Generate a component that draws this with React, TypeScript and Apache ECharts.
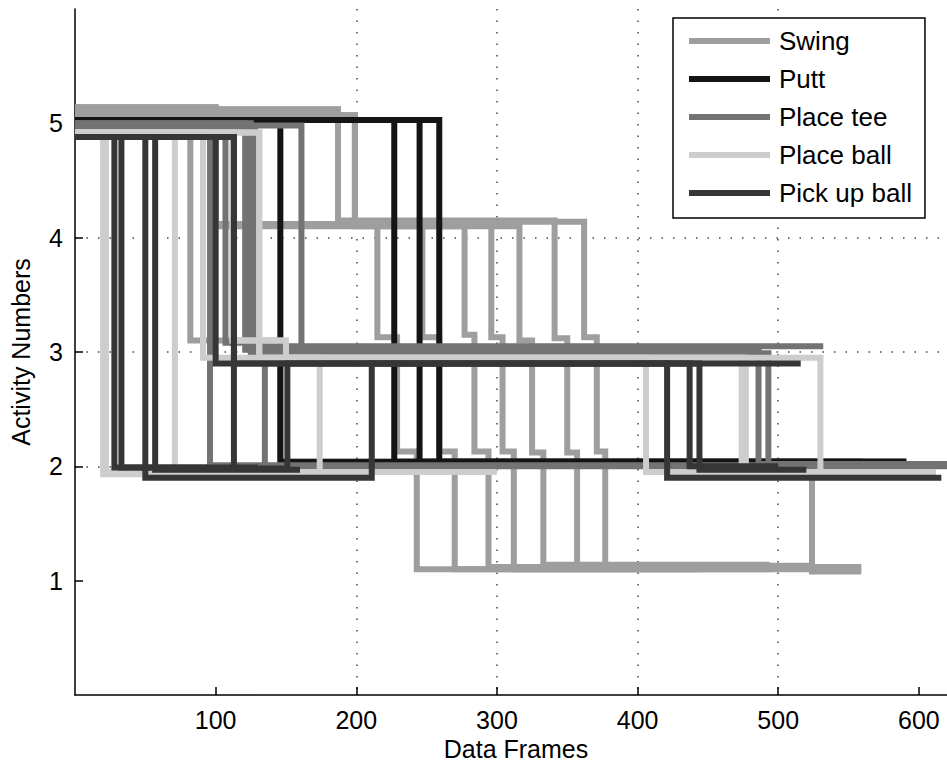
import React, { useEffect, useRef } from "react";
import * as echarts from "echarts";

// ---- Data (frames, activity number) ----
const categories = ["Swing", "Putt", "Place tee", "Place ball", "Pick up ball"];
const xTicks = [100, 200, 300, 400, 500, 600];
const yTicks = [1, 2, 3, 4, 5];

const swingTraces: number[][][] = [
  [[0, 5.14], [100, 5.14], [100, 4.12], [215, 4.12], [215, 3.13], [229, 3.13], [229, 2.13], [243, 2.13], [243, 1.1], [446, 1.1]],
  [[0, 5.12], [187, 5.12], [187, 4.12], [247, 4.12], [247, 3.13], [259, 3.13], [259, 2.13], [270, 2.13], [270, 1.1], [494, 1.1]],
  [[0, 5.07], [199, 5.07], [199, 4.1], [277, 4.1], [277, 3.15], [284, 3.15], [284, 2.13], [294, 2.13], [294, 1.12], [446, 1.12]],
  [[0, 5.12], [187, 5.12], [187, 4.13], [296, 4.13], [296, 3.13], [304, 3.13], [304, 2.13], [312, 2.13], [312, 1.1], [559, 1.1]],
  [[0, 5.14], [100, 5.14], [100, 4.1], [316, 4.1], [316, 3.1], [325, 3.1], [325, 2.12], [333, 2.12], [333, 1.14], [494, 1.14]],
  [[0, 5.12], [187, 5.12], [187, 4.15], [341, 4.15], [341, 3.12], [350, 3.12], [350, 2.12], [357, 2.12], [357, 1.13], [523, 1.13]],
  [[0, 5.07], [199, 5.07], [199, 4.14], [362, 4.14], [362, 3.13], [371, 3.13], [371, 2.13], [377, 2.13], [377, 1.12], [559, 1.12]],
  [[0, 5.12], [82, 5.12], [82, 3.1], [146, 3.1], [146, 2.04], [524, 2.04], [524, 1.08], [559, 1.08]],
];

const puttTraces: number[][][] = [
  [[0, 5.03], [146, 5.03], [146, 2.04], [591, 2.04]],
  [[0, 5.03], [227, 5.03], [227, 2.04], [560, 2.04]],
  [[0, 5.03], [245, 5.03], [245, 2.04], [591, 2.04]],
  [[0, 5.03], [259, 5.03], [259, 2.04], [591, 2.04]],
];

const placeTeeTraces: number[][][] = [
  [[0, 4.98], [96, 4.98], [96, 2.01], [640, 2.01]],
  [[0, 4.98], [107, 4.98], [107, 3.08], [135, 3.08], [135, 2.0], [560, 2.0]],
  [[0, 5.0], [121, 5.0], [121, 3.02], [486, 3.02], [486, 2.02], [640, 2.02]],
  [[0, 5.0], [125, 5.0], [125, 2.99], [493, 2.99], [493, 2.0], [640, 2.0]],
  [[0, 4.97], [128, 4.97], [128, 3.05], [532, 3.05]],
  [[0, 4.98], [161, 4.98], [161, 3.0], [430, 3.0]],
];

const placeBallTraces: number[][][] = [
  [[0, 4.92], [20, 4.92], [20, 1.93], [170, 1.93]],
  [[0, 4.92], [22, 4.92], [22, 1.95], [110, 1.95]],
  [[0, 4.92], [71, 4.92], [71, 1.95], [240, 1.95]],
  [[0, 4.92], [91, 4.92], [91, 2.95], [174, 2.95], [174, 1.95], [300, 1.95]],
  [[0, 4.92], [112, 4.92], [112, 3.1], [150, 3.1], [150, 2.95], [406, 2.95], [406, 1.95], [612, 1.95]],
  [[0, 4.92], [112, 4.92], [112, 3.1], [150, 3.1], [150, 2.95], [474, 2.95], [474, 1.95], [612, 1.95]],
  [[0, 4.92], [131, 4.92], [131, 2.95], [477, 2.95], [477, 1.95], [600, 1.95]],
  [[0, 4.92], [131, 4.92], [131, 2.95], [530, 2.95], [530, 1.95], [612, 1.95]],
];

const pickUpTraces: number[][][] = [
  [[0, 4.88], [28, 4.88], [28, 1.99], [95, 1.99]],
  [[0, 4.88], [33, 4.88], [33, 1.99], [130, 1.99]],
  [[0, 4.88], [50, 4.88], [50, 1.9], [211, 1.9], [211, 2.9], [421, 2.9], [421, 1.9], [616, 1.9]],
  [[0, 4.88], [57, 4.88], [57, 1.97], [160, 1.97]],
  [[0, 4.88], [113, 4.88], [113, 1.98], [151, 1.98], [151, 2.9], [437, 2.9], [437, 2.0], [500, 2.0]],
  [[0, 4.88], [113, 4.88], [113, 2.9], [444, 2.9], [444, 1.97], [520, 1.97]],
  [[0, 4.88], [100, 4.88], [100, 2.9], [516, 2.9]],
];

const seriesColors = ["#9e9e9e", "#141414", "#737373", "#cdcdcd", "#363636"];
const allTraces = [swingTraces, puttTraces, placeTeeTraces, placeBallTraces, pickUpTraces];

const FONT = "'Liberation Sans', Arial, Helvetica, sans-serif";

export default function App() {
  const ref = useRef<HTMLDivElement>(null);
  useEffect(() => {
    if (!ref.current) return;
    const chart = echarts.init(ref.current, undefined, { renderer: "svg" });
    const series: any[] = [];
    allTraces.forEach((traces, ci) => {
      traces.forEach((tr) => {
        series.push({
          type: "line",
          name: categories[ci],
          data: tr,
          symbol: "none",
          showSymbol: false,
          color: seriesColors[ci],
          itemStyle: { color: seriesColors[ci] },
          lineStyle: { color: seriesColors[ci], width: 6, join: "miter", cap: "butt" },
          emphasis: { disabled: true },
          z: 2 + ci,
        });
      });
    });
    chart.setOption({
      animation: false,
      backgroundColor: "#fff",
      grid: { left: 72, top: 9, right: 0, height: 686, containLabel: false },
      legend: {
        data: categories,
        orient: "vertical",
        left: 673,
        top: 18,
        icon: "rect",
        itemWidth: 81,
        itemHeight: 6,
        itemGap: 8,
        padding: [8, 13, 10, 16],
        backgroundColor: "#fff",
        borderColor: "#000",
        borderWidth: 1.5,
        borderRadius: 0,
        selectedMode: false,
        textStyle: { fontFamily: FONT, fontSize: 26, color: "#000", lineHeight: 30, padding: [0, 0, 0, 4] },
        z: 20,
      },
      xAxis: {
        type: "value",
        min: 0,
        max: 620,
        interval: 100,
        name: "Data Frames",
        nameLocation: "middle",
        nameGap: 39,
        nameTextStyle: { fontFamily: FONT, fontSize: 25, color: "#000", padding: [0, 0, 0, 10] },
        axisLine: { show: true, onZero: false, lineStyle: { color: "#000", width: 1.5 } },
        axisTick: { show: true, inside: true, length: 8, customValues: xTicks, lineStyle: { color: "#000", width: 1.5 } },
        axisLabel: { customValues: xTicks, fontFamily: FONT, fontSize: 25, color: "#000", margin: 12 },
        splitLine: { show: true, showMinLine: false, showMaxLine: false, lineStyle: { color: "#444", width: 1.5, type: [1.5, 10] } },
      },
      yAxis: {
        type: "value",
        min: 0,
        max: 6,
        interval: 1,
        name: "Activity Numbers",
        nameLocation: "middle",
        nameGap: 42,
        nameTextStyle: { fontFamily: FONT, fontSize: 25, color: "#000" },
        axisLine: { show: true, onZero: false, lineStyle: { color: "#000", width: 1.5 } },
        axisTick: { show: true, inside: true, length: 8, customValues: yTicks, lineStyle: { color: "#000", width: 1.5 } },
        axisLabel: { customValues: yTicks, fontFamily: FONT, fontSize: 25, color: "#000", margin: 12 },
        splitLine: { show: true, showMinLine: false, showMaxLine: false, lineStyle: { color: "#444", width: 1.5, type: [1.5, 10] } },
      },
      series,
    });
    return () => chart.dispose();
  }, []);
  return <div ref={ref} style={{ width: 947, height: 767, position: "absolute", left: 0, top: 0 }} />;
}
